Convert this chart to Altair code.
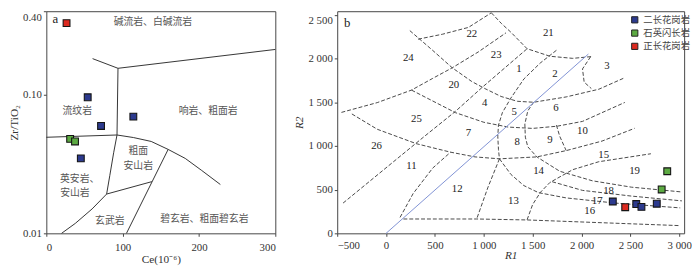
import altair as alt
import pandas as pd

# ---------------- Panel a : Zr/TiO2 vs Ce ----------------
a_lines = {
    "L1": [(60.6, 0.182), (93.9, 0.155)],
    "L2": [(93.9, 0.155), (300, 0.212)],
    "L3": [(93.9, 0.155), (92.6, 0.0512), (88.2, 0.0381), (83.2, 0.0262), (79, 0.0192),
           (60, 0.0150), (38, 0.0118), (20, 0.01)],
    "L4": [(0, 0.0493), (92.6, 0.0512), (114, 0.0491), (137.4, 0.046), (159.6, 0.0403),
           (182, 0.0347), (203.6, 0.0284), (228, 0.0225)],
    "L5": [(159.6, 0.0403), (105, 0.01)],
    "L6": [(79, 0.0192), (138.3, 0.0236)],
}
a_label_text = ["碱流岩、白碱流岩", "流纹岩", "响岩、粗面岩", "粗面", "安山岩",
                "英安岩、", "安山岩", "玄武岩", "碧玄岩、粗面碧玄岩"]
a_label_ce = [139.6, 40.5, 212, 120.4, 120.4, 43.7, 37.4, 83.2, 207]
a_label_zr = [0.333, 0.0757, 0.0757, 0.0392, 0.0306, 0.0246, 0.0196, 0.01225, 0.0127]

a_pt_group = ["正长花岗岩", "二长花岗岩", "二长花岗岩", "二长花岗岩", "石英闪长岩", "石英闪长岩", "二长花岗岩"]
a_pt_ce = [26.5, 54.2, 114, 71.7, 31.2, 37.6, 45.2]
a_pt_zr = [0.328, 0.0958, 0.0695, 0.0595, 0.048, 0.046, 0.0347]

# ---------------- Panel b : R1-R2 ----------------
b_lines = {
    "A": [(243, 2318), (477, 2092), (677, 1893), (877, 1736), (1010, 1656), (1177, 1565),
          (1343, 1510), (1510, 1499), (1843, 1560), (2177, 1648), (2427, 1772)],
    "G": [(-457, 1383), (-90, 1495), (260, 1638), (477, 1772), (677, 1893), (943, 2074), (1227, 2293)],
    "B": [(327, 2220), (577, 2277), (843, 2355), (1077, 2522)],
    "C": [(1077, 2522), (1180, 2400), (1277, 2300), (1443, 2111), (1677, 2025), (1910, 2001), (2110, 2022)],
    "D1": [(-440, 346), (377, 1095), (710, 1395), (977, 1663), (1443, 2111)],
    "D2": [(1743, 2093), (1577, 1947), (1410, 1765), (1277, 1547), (1190, 1380), (1150, 1237),
           (1143, 1110), (1150, 960), (1160, 852)],
    "D3": [(2093, 2020), (2010, 1880), (2027, 1729), (2100, 1656)],
    "H": [(260, 1638), (710, 1380), (1000, 1270), (1250, 1215), (1500, 1200), (1750, 1225),
          (2010, 1280), (2443, 1497)],
    "I": [(-350, 1365), (-90, 1190), (310, 1025), (660, 928), (910, 874), (1160, 852),
          (1543, 874), (1843, 946), (2210, 1055), (2543, 1201)],
    "E1": [(1510, 1500), (1450, 1400), (1420, 1250), (1425, 1100), (1450, 990), (1543, 874),
           (1777, 710), (2110, 601), (2510, 528), (3027, 473)],
    "E2": [(1160, 852), (1277, 674), (1410, 546), (1560, 465), (1843, 405), (2343, 346), (3010, 291)],
    "K": [(1700, 590), (2010, 491), (2510, 426), (3027, 371)],
    "J": [(1443, 155), (1500, 330), (1580, 470), (1677, 582), (1910, 728), (2177, 819), (2710, 910)],
    "BOT": [(177, 164), (927, 164), (1443, 153), (3010, 88)],
    "P1213": [(1160, 852), (1043, 528), (927, 164)],
    "P1112": [(143, 182), (277, 455), (477, 746), (660, 928)],
    "P910": [(1743, 1237), (1777, 1110), (1843, 946)],
}
b_blue = [(0, 0), (2070, 2050)]

b_label_text = ["22", "21", "24", "23", "1", "2", "3", "20", "4", "5", "6", "25", "7", "8", "9",
                "10", "26", "11", "12", "13", "14", "15", "19", "18", "17", "16"]
b_label_r1 = [877, 1660, 227, 1127, 1360, 1727, 2260, 693, 1010, 1310, 1737, 310, 843, 1343, 1677,
              2010, -97, 260, 727, 1303, 1560, 2227, 2543, 2277, 2160, 2083]
b_label_r2 = [2282, 2293, 2002, 2039, 1875, 1820, 1911, 1693, 1493, 1383, 1430, 1310, 1147, 1045, 1067,
              1172, 994, 772, 510, 371, 710, 899, 717, 484, 364, 255]

b_pt_group = ["石英闪长岩", "石英闪长岩", "二长花岗岩", "正长花岗岩", "二长花岗岩", "二长花岗岩", "二长花岗岩"]
b_pt_r1 = [2877, 2820, 2320, 2447, 2560, 2613, 2770]
b_pt_r2 = [710, 502, 364, 299, 335, 302, 339]

groups = ["二长花岗岩", "石英闪长岩", "正长花岗岩"]
group_colors = ["#2c3a8e", "#5caa42", "#dc2a20"]

SERIF = "Liberation Serif"
CJK = "Noto Sans CJK SC"


def lines_df(d):
    rows = []
    for k, pts in d.items():
        for i, (x, y) in enumerate(pts):
            rows.append({"id": k, "o": i, "x": x, "y": y})
    return pd.DataFrame(rows)


top_base = {"condition": {"test": "datum.index == 1", "value": "top"}, "value": "middle"}

# ---- panel a ----
xa = alt.X("x:Q", scale=alt.Scale(domain=[0, 300], nice=False),
           axis=alt.Axis(values=[0, 100, 200, 300], title="Ce(10⁻⁶)", labelPadding=5,
                         titlePadding=2, tickSize=3, grid=False, domain=False))
ya = alt.Y("y:Q", scale=alt.Scale(type="log", domain=[0.01, 0.4], nice=False),
           axis=alt.Axis(values=[0.01, 0.1, 0.4], format=".2f", title="Zr/TiO₂", labelPadding=2,
                         titlePadding=3, tickSize=3, grid=False, domain=False,
                         labelBaseline=top_base))

a_l = alt.Chart(lines_df(a_lines)).mark_line(color="#333", strokeWidth=1).encode(
    x=xa, y=ya, detail="id:N", order="o:Q")
a_t = alt.Chart(pd.DataFrame({"x": a_label_ce, "y": a_label_zr, "t": a_label_text})).mark_text(
    font=CJK, fontSize=10, color="#555").encode(x="x:Q", y="y:Q", text="t:N")
a_tag = alt.Chart(pd.DataFrame({"x": [8], "y": [0.35], "t": ["a"]})).mark_text(
    font=SERIF, fontSize=13, color="#222", align="left").encode(x="x:Q", y="y:Q", text="t:N")
a_p = alt.Chart(pd.DataFrame({"x": a_pt_ce, "y": a_pt_zr, "g": a_pt_group})).mark_square(
    size=48, stroke="#151515", strokeWidth=1.1, opacity=1).encode(
    x="x:Q", y="y:Q",
    color=alt.Color("g:N", scale=alt.Scale(domain=groups, range=group_colors), legend=None))

panel_a = alt.layer(a_l, a_t, a_tag, a_p).properties(width=233, height=226)

# ---- panel b ----
lab = "replace(format(datum.value, ','), ',', ' ')"
xb = alt.X("x:Q", scale=alt.Scale(domain=[-500, 3050], nice=False),
           axis=alt.Axis(values=list(range(-500, 3001, 500)), labelExpr=lab,
                         title="R1", titleFontStyle="italic", labelPadding=3, titlePadding=0,
                         tickSize=3, grid=False, domain=False))
yb = alt.Y("y:Q", scale=alt.Scale(domain=[0, 2540], nice=False),
           axis=alt.Axis(values=list(range(0, 2501, 500)), labelExpr=lab,
                         title="R2", titleFontStyle="italic", labelPadding=2, titlePadding=4,
                         tickSize=3, grid=False, domain=False, labelBaseline=top_base))

b_l = alt.Chart(lines_df(b_lines)).mark_line(color="#333", strokeWidth=0.9, strokeDash=[4, 2]).encode(
    x=xb, y=yb, detail="id:N", order="o:Q")
b_bl = alt.Chart(lines_df({"blue": b_blue})).mark_line(color="#7f92d4", strokeWidth=1).encode(
    x="x:Q", y="y:Q", detail="id:N", order="o:Q")
b_t = alt.Chart(pd.DataFrame({"x": b_label_r1, "y": b_label_r2, "t": b_label_text})).mark_text(
    font=SERIF, fontSize=11, color="#222").encode(x="x:Q", y="y:Q", text="t:N")
b_tag = alt.Chart(pd.DataFrame({"x": [-430], "y": [2400], "t": ["b"]})).mark_text(
    font=SERIF, fontSize=13, color="#222", align="left").encode(x="x:Q", y="y:Q", text="t:N")
b_p = alt.Chart(pd.DataFrame({"x": b_pt_r1, "y": b_pt_r2, "g": b_pt_group})).mark_square(
    size=48, stroke="#151515", strokeWidth=1.1, opacity=1).encode(
    x="x:Q", y="y:Q",
    color=alt.Color("g:N", scale=alt.Scale(domain=groups, range=group_colors),
                    legend=alt.Legend(title=None, orient="none", legendX=298, legendY=4,
                                      symbolType="square", symbolSize=40,
                                      symbolStrokeColor="#222", symbolStrokeWidth=1,
                                      labelFont=CJK, labelFontSize=9.5, labelColor="#444",
                                      rowPadding=2.5, padding=0, labelOffset=4)))

panel_b = alt.layer(b_l, b_bl, b_t, b_tag, b_p).properties(width=353, height=226)

chart = alt.hconcat(panel_a, panel_b, spacing=63, bounds="flush").resolve_scale(
    color="independent").properties(padding=0).configure_view(
    stroke="#444", strokeWidth=1).configure_axis(
    labelFont=SERIF, labelFontSize=11, labelColor="#333", titleFont=SERIF, titleFontSize=11.5,
    titleFontWeight="normal", titleColor="#333", tickColor="#444")

chart.save("out.html", embed_options={"renderer": "svg", "actions": False})
